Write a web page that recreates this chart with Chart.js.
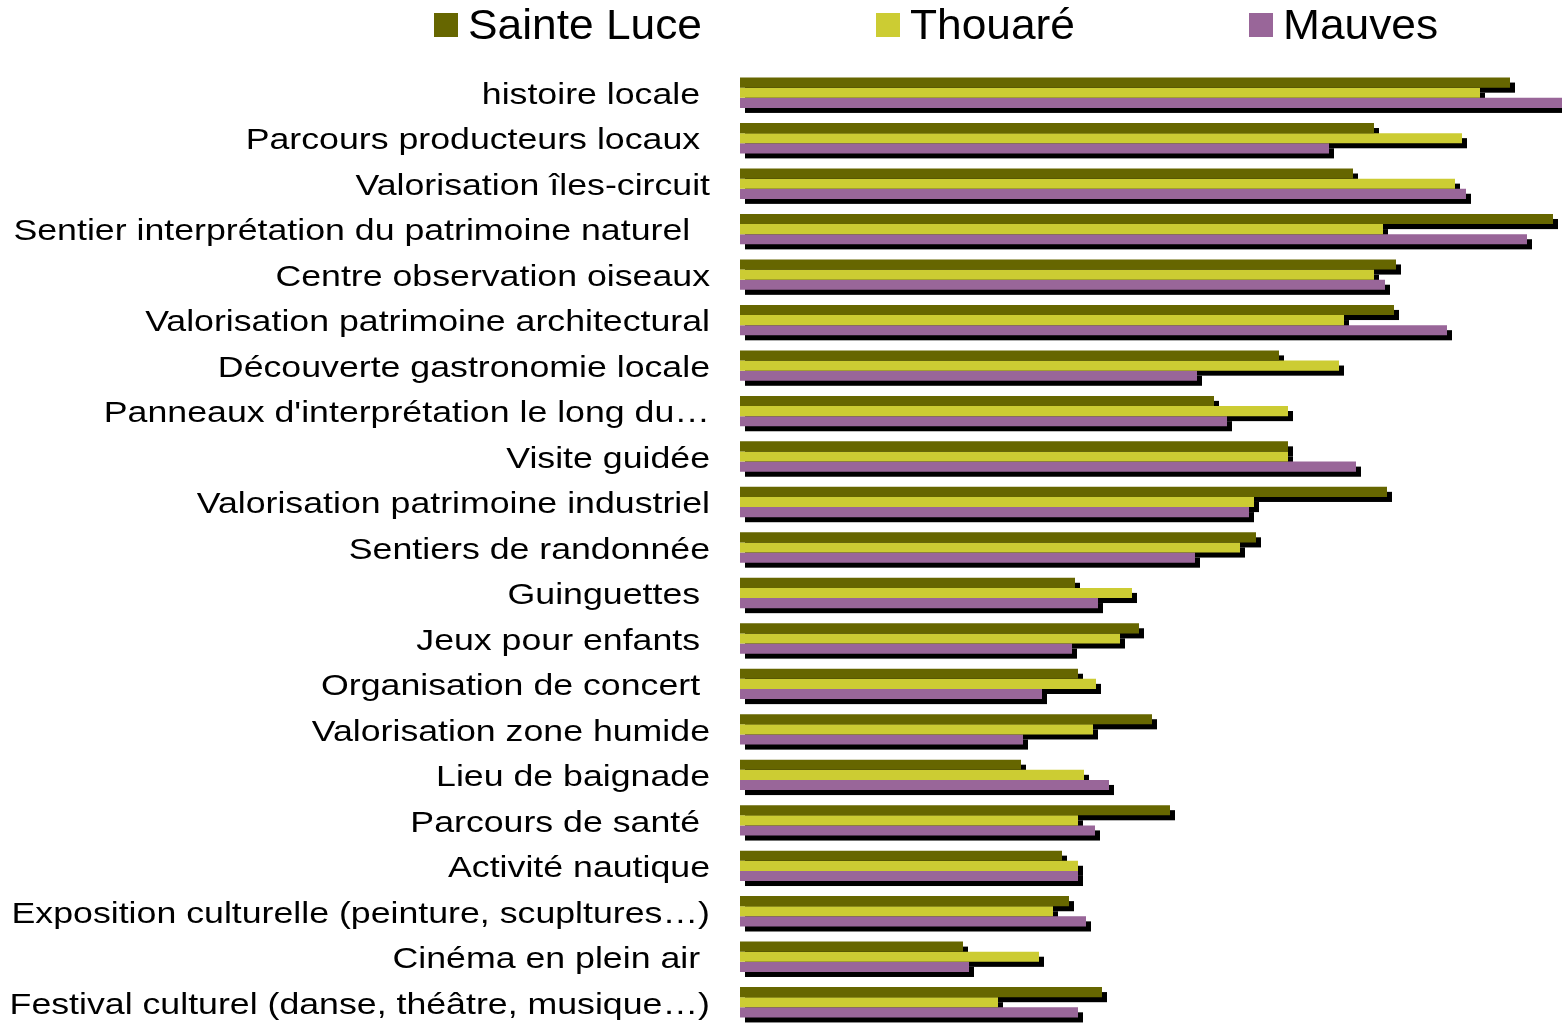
<!DOCTYPE html>
<html>
<head>
<meta charset="utf-8">
<script src="https://cdn.jsdelivr.net/npm/chart.js@4"></script>
<style>
  html, body { margin: 0; padding: 0; background: #fff; overflow: hidden; }
  canvas { display: block; }
</style>
</head>
<body>
<canvas id="barChart" width="1562" height="1025"></canvas>
<script>
// categories (trailing spaces kept as in the original labels)
var categories = [
  "histoire locale ",
  "Parcours producteurs locaux ",
  "Valorisation îles-circuit",
  "Sentier interprétation du patrimoine naturel  ",
  "Centre observation oiseaux",
  "Valorisation patrimoine architectural",
  "Découverte gastronomie locale",
  "Panneaux d'interprétation le long du…",
  "Visite guidée",
  "Valorisation patrimoine industriel",
  "Sentiers de randonnée",
  "Guinguettes ",
  "Jeux pour enfants ",
  "Organisation de concert ",
  "Valorisation zone humide",
  "Lieu de baignade",
  "Parcours de santé ",
  "Activité nautique",
  "Exposition culturelle (peinture, scupltures…)",
  "Cinéma en plein air ",
  "Festival culturel (danse, théâtre, musique…)"
];

var sainteLuce = [77.0, 63.4, 61.3, 81.3, 65.6, 65.4, 53.9, 47.4, 54.8, 64.7, 51.6,
                  33.5, 39.9, 33.8, 41.2, 28.1, 43.0, 32.2, 32.9, 22.3, 36.2];
var thouare    = [74.0, 72.2, 71.5, 64.3, 63.4, 60.4, 59.9, 54.8, 54.8, 51.4, 50.0,
                  39.2, 38.0, 35.6, 35.3, 34.4, 33.8, 33.8, 31.3, 29.9, 25.8];
var mauves     = [82.5, 58.9, 72.6, 78.7, 64.5, 70.7, 45.7, 48.7, 61.6, 50.9, 45.5,
                  35.8, 33.2, 30.2, 28.3, 36.9, 35.5, 33.8, 34.6, 22.9, 33.8];

var xMax = 82.2;
var fontName = "'Liberation Sans', Arial, Helvetica, sans-serif";

// black drop shadow under every bar, painted before the bars
var shadowPlugin = {
  id: 'barShadow',
  beforeDatasetsDraw: function (chart) {
    var ctx = chart.ctx;
    ctx.save();
    ctx.fillStyle = '#000';
    chart.getSortedVisibleDatasetMetas().forEach(function (meta) {
      meta.data.forEach(function (bar) {
        var p = bar.getProps(['x', 'y', 'base', 'height'], true);
        ctx.fillRect(Math.min(p.base, p.x) + 5, p.y - p.height / 2 + 5,
                     Math.abs(p.x - p.base), p.height);
      });
    });
    ctx.restore();
  }
};

// the original labels are a bit wider than the font: stretch the y tick labels
var labelStretch = 1.19;
var stretchPlugin = {
  id: 'stretchLabels',
  beforeDraw: function (chart) {
    var ys = chart.scales.y;
    if (ys._stretched) return;
    var orig = ys.drawLabels;
    ys.drawLabels = function (area) {
      var c = this.ctx;
      var ax = this.right - this.options.ticks.padding;
      c.save();
      c.translate(ax, 3);
      c.scale(labelStretch, 1);
      c.translate(-ax, 0);
      orig.call(this, area);
      c.restore();
    };
    ys._stretched = true;
  }
};

// legend drawn at fixed spots across the top
var legendX = [434, 876, 1249];
var legendPlugin = {
  id: 'topLegend',
  afterDraw: function (chart) {
    var ctx = chart.ctx;
    ctx.save();
    ctx.font = "43px " + fontName;
    ctx.textAlign = 'left';
    ctx.textBaseline = 'alphabetic';
    chart.data.datasets.forEach(function (ds, i) {
      ctx.fillStyle = ds.backgroundColor;
      ctx.fillRect(legendX[i], 13, 24, 24);
      ctx.fillStyle = '#000';
      ctx.save();
      ctx.translate(legendX[i] + 34, 39);
      ctx.scale(1.03, 1);
      ctx.fillText(ds.label, 0, 0);
      ctx.restore();
    });
    ctx.restore();
  }
};

var ctx = document.getElementById('barChart').getContext('2d');
var chart = new Chart(ctx, {
  type: 'bar',
  data: {
    labels: categories,
    datasets: [
      { label: 'Sainte Luce', data: sainteLuce, backgroundColor: '#666600' },
      { label: 'Thouaré', data: thouare, backgroundColor: '#cccc33' },
      { label: 'Mauves', data: mauves, backgroundColor: '#996699' }
    ]
  },
  options: {
    indexAxis: 'y',
    responsive: false,
    animation: false,
    layout: { padding: { top: 70, left: 0, right: 0, bottom: 0 } },
    datasets: {
      bar: { barPercentage: 1.0, categoryPercentage: 0.668, borderWidth: 0 }
    },
    plugins: {
      legend: { display: false },
      tooltip: { enabled: false }
    },
    scales: {
      x: { display: false, min: 0, max: xMax },
      y: {
        grid: { display: false, drawTicks: false },
        border: { display: false },
        ticks: {
          autoSkip: false,
          color: '#000',
          padding: 30,
          font: { family: fontName, size: 30 }
        },
        afterFit: function (scale) {
          scale.width = 740;
          scale.paddingTop = 0;
          scale.paddingBottom = 0;
        }
      }
    }
  },
  plugins: [shadowPlugin, stretchPlugin, legendPlugin]
});
</script>
</body>
</html>
